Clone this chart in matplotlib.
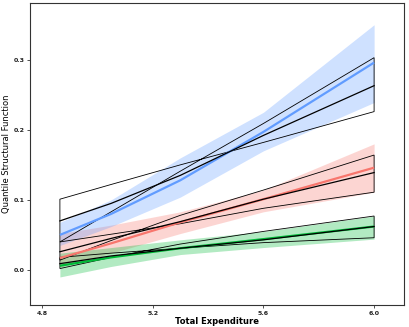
import matplotlib.pyplot as plt
from matplotlib.patches import Polygon

x = [4.865, 5.05, 5.3, 5.6, 6.0]

# central quantile curves
red_mid = [0.017, 0.038, 0.068, 0.101, 0.146]
green_mid = [0.006, 0.018, 0.031, 0.044, 0.062]
blue_mid = [0.050, 0.080, 0.128, 0.197, 0.296]

# pointwise bands (shaded)
red_lo = [0.004, 0.024, 0.052, 0.083, 0.111]
red_hi = [0.052, 0.064, 0.083, 0.114, 0.180]
green_lo = [-0.010, 0.005, 0.022, 0.032, 0.044]
green_hi = [0.024, 0.032, 0.043, 0.055, 0.077]
blue_lo = [0.035, 0.062, 0.104, 0.170, 0.239]
blue_hi = [0.068, 0.100, 0.160, 0.225, 0.350]

# black outlined bands: (start-high line, middle line, start-low line)
blue_a = [0.101, 0.122, 0.150, 0.182, 0.226]
blue_m = [0.070, 0.095, 0.135, 0.192, 0.263]
blue_b = [0.040, 0.083, 0.141, 0.209, 0.303]
red_a = [0.040, 0.051, 0.066, 0.088, 0.111]
red_m = [0.026, 0.045, 0.069, 0.101, 0.139]
red_b = [0.014, 0.042, 0.078, 0.114, 0.164]
green_a = [0.018, 0.024, 0.031, 0.039, 0.046]
green_m = [0.009, 0.020, 0.031, 0.043, 0.062]
green_b = [0.002, 0.018, 0.037, 0.055, 0.077]

colors = {"red": "#F8766D", "green": "#00BA38", "blue": "#619CFF"}

fig = plt.figure(figsize=(4.09, 3.27), dpi=100)
ax = fig.add_axes([30 / 409, 22 / 327, 374 / 409, 302 / 327])

groups = [
    ("red", red_lo, red_hi, red_mid, red_a, red_m, red_b),
    ("green", green_lo, green_hi, green_mid, green_a, green_m, green_b),
    ("blue", blue_lo, blue_hi, blue_mid, blue_a, blue_m, blue_b),
]

for name, lo, hi, mid, a, m, b in groups:
    ax.fill_between(x, lo, hi, color=colors[name], alpha=0.3, linewidth=0)
for name, lo, hi, mid, a, m, b in groups:
    ax.plot(x, mid, color=colors[name], lw=1.6, solid_capstyle="butt")
for name, lo, hi, mid, a, m, b in groups:
    pts = list(zip(x, a)) + list(zip(x[::-1], b[::-1]))
    ax.add_patch(Polygon(pts, closed=True, fill=False, edgecolor="black", lw=0.6))
    ax.plot(x, m, color="black", lw=0.9)

ax.set_xlim(4.757, 6.108)
ax.set_ylim(-0.05, 0.381)
ax.set_xticks([4.8, 5.2, 5.6, 6.0])
ax.set_xticklabels(["4.8", "5.2", "5.6", "6.0"])
ax.set_yticks([0.0, 0.1, 0.2, 0.3])
ax.set_yticklabels(["0.0", "0.1", "0.2", "0.3"])
ax.tick_params(length=2, width=0.6, labelsize=4.5, pad=2, colors="#333333")
for lab in ax.get_xticklabels() + ax.get_yticklabels():
    lab.set_fontweight("bold")
    lab.set_color("#222222")
for s in ax.spines.values():
    s.set_linewidth(0.8)
    s.set_color("#333333")

ax.set_xlabel("Total Expenditure", fontsize=6, fontweight="bold", labelpad=1)
ax.set_ylabel("Quantile Structural Function", fontsize=6)
ax.yaxis.set_label_coords(-19 / 374, 0.5)

fig.savefig("out.png", dpi=100)
